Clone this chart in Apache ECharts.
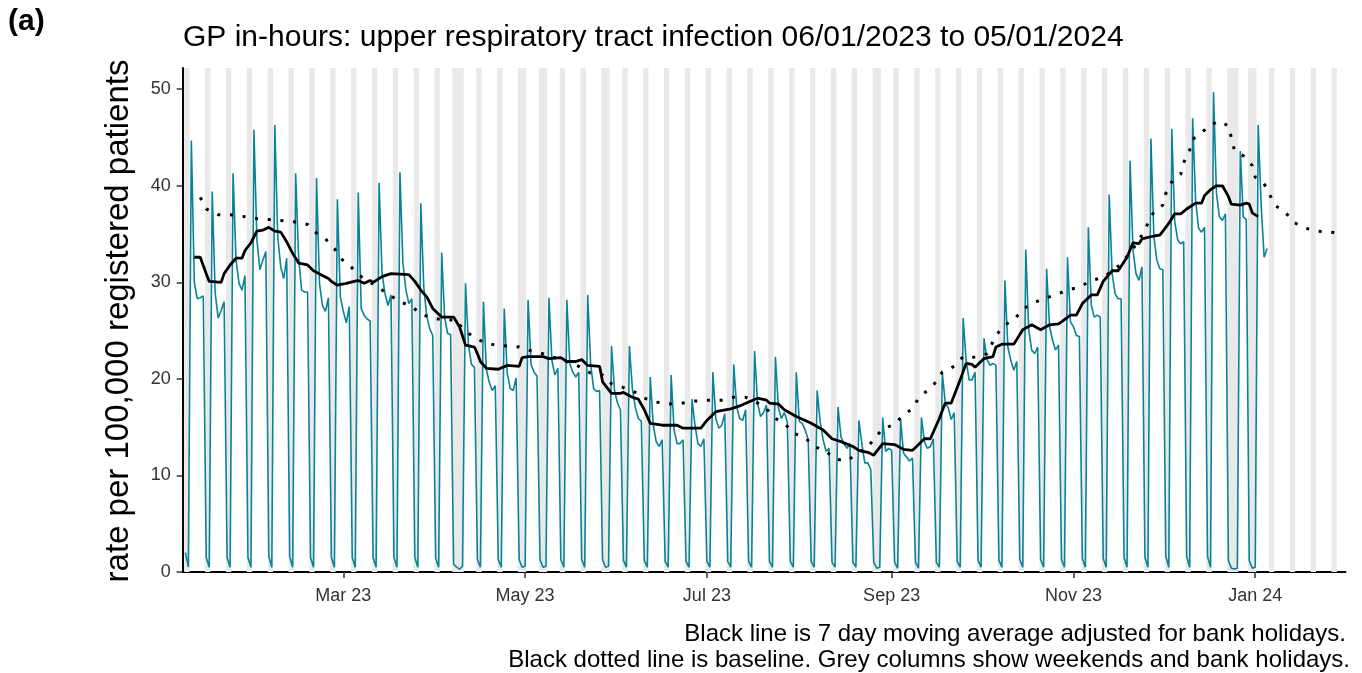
<!DOCTYPE html>
<html>

<head>
    <meta charset="utf-8">
    <title>GP in-hours: upper respiratory tract infection</title>
    <script src="https://cdn.jsdelivr.net/npm/echarts@6.0.0/dist/echarts.min.js"></script>
    <style>
        html, body { margin: 0; padding: 0; background: #fff; }
    </style>
</head>

<body>
    <div id="chart" style="width: 1362px; height: 673px;"></div>

    <script>
        // first day of the daily series (Saturday)
        var startDate = [2023, 0, 7];

        // daily rate per 100,000, from Sat 07/01/2023; one line per week (Mon..Sun)
        var rate = [
            2.0, 0.5,
            44.7, 30.0, 28.3, 28.4, 28.6, 1.5, 0.5,   // 09 Jan
            39.4, 28.9, 26.3, 27.1, 28.0, 1.5, 0.5,   // 16 Jan
            41.3, 32.3, 29.9, 29.2, 30.7, 1.5, 0.5,   // 23 Jan
            45.8, 34.4, 31.3, 32.3, 33.2, 1.6, 0.5,   // 30 Jan
            46.3, 34.7, 31.6, 30.4, 32.5, 1.6, 0.5,   // 06 Feb
            41.3, 32.6, 29.2, 29.0, 29.0, 1.5, 0.5,   // 13 Feb
            40.8, 29.9, 27.6, 27.0, 28.4, 1.5, 0.5,   // 20 Feb
            38.6, 28.5, 27.0, 25.8, 27.5, 1.5, 0.5,   // 27 Feb
            39.3, 27.3, 26.6, 26.2, 26.0, 1.5, 0.5,   // 06 Mar
            40.3, 30.9, 28.8, 27.6, 28.7, 1.5, 0.5,   // 13 Mar
            41.4, 32.0, 29.2, 27.8, 28.3, 1.5, 0.5,   // 20 Mar
            38.2, 29.5, 26.5, 25.2, 24.5, 1.4, 0.5,   // 27 Mar
            33.1, 26.4, 24.7, 24.6, 0.8, 0.5, 0.3,    // 03 Apr (Good Friday)
            0.6, 29.9, 23.5, 21.5, 21.2, 1.3, 0.5,    // 10 Apr (Easter Monday)
            28.0, 21.0, 19.6, 18.8, 19.3, 1.3, 0.5,   // 17 Apr
            27.3, 20.6, 19.0, 18.8, 20.1, 1.3, 0.5,   // 24 Apr
            0.6, 28.2, 21.5, 20.7, 20.3, 1.3, 0.5,    // 01 May (bank holiday)
            0.6, 28.4, 21.9, 20.4, 21.1, 1.3, 0.5,    // 08 May (bank holiday)
            28.2, 21.6, 20.7, 20.2, 20.7, 1.3, 0.5,   // 15 May
            28.7, 21.5, 19.0, 18.7, 18.8, 1.3, 0.5,   // 22 May
            0.6, 23.4, 18.8, 17.5, 16.8, 1.2, 0.5,    // 29 May (bank holiday)
            23.4, 19.0, 17.0, 15.9, 15.6, 1.2, 0.5,   // 05 Jun
            20.2, 15.2, 13.5, 13.0, 13.7, 1.1, 0.5,   // 12 Jun
            20.4, 14.7, 13.3, 13.3, 13.7, 1.1, 0.5,   // 19 Jun
            17.9, 15.2, 13.3, 13.0, 13.8, 1.1, 0.5,   // 26 Jun
            20.7, 15.9, 14.9, 15.2, 16.4, 1.1, 0.5,   // 03 Jul
            21.5, 17.1, 15.9, 15.7, 16.8, 1.1, 0.5,   // 10 Jul
            22.9, 17.5, 16.1, 16.5, 17.3, 1.1, 0.5,   // 17 Jul
            22.3, 17.0, 15.9, 16.5, 15.5, 1.1, 0.5,   // 24 Jul
            20.7, 15.6, 15.4, 14.7, 13.7, 1.1, 0.5,   // 31 Jul
            18.8, 15.6, 13.7, 12.5, 12.8, 1.0, 0.5,   // 07 Aug
            17.1, 14.0, 13.3, 12.8, 13.3, 1.0, 0.5,   // 14 Aug
            15.7, 13.3, 11.3, 11.3, 10.6, 1.0, 0.4,   // 21 Aug
            0.5, 16.0, 12.5, 12.8, 12.6, 1.0, 0.4,    // 28 Aug (bank holiday)
            15.8, 12.3, 11.9, 11.5, 11.8, 1.0, 0.4,   // 04 Sep
            16.0, 13.5, 12.8, 13.0, 13.8, 1.0, 0.5,   // 11 Sep
            20.6, 17.5, 17.0, 15.8, 16.5, 1.1, 0.5,   // 18 Sep
            26.3, 21.9, 19.9, 19.9, 20.7, 1.2, 0.5,   // 25 Sep
            24.2, 22.0, 21.4, 21.6, 21.4, 1.2, 0.5,   // 02 Oct
            30.2, 23.3, 21.9, 20.9, 21.8, 1.3, 0.5,   // 09 Oct
            33.4, 25.1, 23.0, 22.6, 23.3, 1.3, 0.5,   // 16 Oct
            31.4, 25.4, 24.0, 23.0, 23.5, 1.3, 0.5,   // 23 Oct
            32.6, 25.9, 25.4, 24.5, 24.4, 1.4, 0.5,   // 30 Oct
            35.7, 27.6, 26.4, 26.6, 26.4, 1.4, 0.5,   // 06 Nov
            39.1, 30.9, 28.8, 28.3, 28.3, 1.5, 0.5,   // 13 Nov
            42.6, 33.3, 30.9, 30.2, 31.6, 1.5, 0.5,   // 20 Nov
            44.9, 34.7, 32.3, 31.4, 31.3, 1.6, 0.5,   // 27 Nov
            45.9, 36.3, 34.4, 34.0, 34.2, 1.6, 0.5,   // 04 Dec
            47.0, 38.5, 35.6, 35.2, 35.7, 1.6, 0.5,   // 11 Dec
            49.7, 39.2, 36.8, 36.4, 37.1, 1.2, 0.4,   // 18 Dec
            0.3, 0.4, 43.6, 36.8, 36.5, 1.2, 0.4,     // 25 Dec (Christmas, Boxing Day)
            0.5, 46.3, 38.0, 32.6, 33.5               // 01 Jan 2024 (bank holiday)
        ];

        // 7 day moving average adjusted for bank holidays
        var movingAvg = [
            ['2023-01-10', 32.6], ['2023-01-12', 32.6], ['2023-01-14', 30.9], ['2023-01-15', 30.1],
            ['2023-01-19', 30.0], ['2023-01-20', 30.9], ['2023-01-22', 31.8], ['2023-01-24', 32.5],
            ['2023-01-26', 32.5], ['2023-01-27', 33.3], ['2023-01-29', 34.1], ['2023-01-31', 35.3],
            ['2023-02-02', 35.4], ['2023-02-04', 35.7], ['2023-02-06', 35.3], ['2023-02-08', 35.2],
            ['2023-02-10', 34.2], ['2023-02-12', 33.0], ['2023-02-14', 32.0], ['2023-02-17', 31.8],
            ['2023-02-19', 31.2], ['2023-02-22', 30.7], ['2023-02-24', 30.4], ['2023-02-25', 30.1],
            ['2023-02-27', 29.7], ['2023-03-02', 29.9], ['2023-03-06', 30.2], ['2023-03-08', 29.9],
            ['2023-03-10', 30.2], ['2023-03-11', 30.0], ['2023-03-14', 30.6], ['2023-03-17', 30.9],
            ['2023-03-23', 30.8], ['2023-03-25', 30.1], ['2023-03-27', 29.2], ['2023-03-29', 28.5],
            ['2023-03-31', 27.3], ['2023-04-03', 26.4], ['2023-04-07', 26.4], ['2023-04-09', 25.4],
            ['2023-04-11', 23.5], ['2023-04-14', 23.3], ['2023-04-15', 22.6], ['2023-04-16', 21.8],
            ['2023-04-18', 21.1], ['2023-04-22', 21.0], ['2023-04-25', 21.4], ['2023-04-29', 21.3],
            ['2023-04-30', 22.2], ['2023-05-02', 22.3], ['2023-05-07', 22.3], ['2023-05-09', 22.1],
            ['2023-05-13', 22.2], ['2023-05-15', 21.8], ['2023-05-18', 21.8], ['2023-05-20', 22.0],
            ['2023-05-22', 21.4], ['2023-05-26', 21.3], ['2023-05-27', 19.7], ['2023-05-30', 18.5],
            ['2023-06-02', 18.5], ['2023-06-03', 18.6], ['2023-06-06', 18.1], ['2023-06-08', 17.9],
            ['2023-06-10', 16.8], ['2023-06-12', 15.4], ['2023-06-16', 15.2], ['2023-06-21', 15.2],
            ['2023-06-23', 14.9], ['2023-06-29', 14.9], ['2023-07-01', 15.7], ['2023-07-04', 16.6],
            ['2023-07-09', 16.9], ['2023-07-12', 17.2], ['2023-07-15', 17.6], ['2023-07-18', 18.0],
            ['2023-07-21', 17.8], ['2023-07-22', 17.5], ['2023-07-25', 17.4], ['2023-07-27', 16.8],
            ['2023-07-31', 16.1], ['2023-08-03', 15.7], ['2023-08-05', 15.4], ['2023-08-09', 14.7],
            ['2023-08-12', 13.8], ['2023-08-15', 13.5], ['2023-08-19', 13.0], ['2023-08-21', 12.6],
            ['2023-08-24', 12.4], ['2023-08-26', 12.1], ['2023-08-29', 13.3], ['2023-09-02', 13.2],
            ['2023-09-05', 12.7], ['2023-09-08', 12.6], ['2023-09-09', 12.9], ['2023-09-12', 13.8],
            ['2023-09-14', 13.8], ['2023-09-17', 15.9], ['2023-09-19', 17.5], ['2023-09-21', 17.5],
            ['2023-09-24', 19.9], ['2023-09-26', 21.6], ['2023-09-28', 21.5], ['2023-09-29', 21.2],
            ['2023-10-02', 22.1], ['2023-10-05', 22.3], ['2023-10-06', 23.3], ['2023-10-08', 23.6],
            ['2023-10-12', 23.6], ['2023-10-15', 25.1], ['2023-10-18', 25.6], ['2023-10-21', 25.1],
            ['2023-10-24', 25.6], ['2023-10-27', 25.7], ['2023-10-28', 25.9], ['2023-10-31', 26.6],
            ['2023-11-02', 26.6], ['2023-11-04', 27.8], ['2023-11-07', 28.7], ['2023-11-09', 28.7],
            ['2023-11-11', 30.1], ['2023-11-14', 31.2], ['2023-11-16', 31.2], ['2023-11-19', 32.6],
            ['2023-11-21', 34.1], ['2023-11-23', 34.0], ['2023-11-24', 34.5], ['2023-11-28', 34.8],
            ['2023-11-30', 34.9], ['2023-12-03', 36.1], ['2023-12-05', 37.1], ['2023-12-07', 37.1],
            ['2023-12-09', 37.6], ['2023-12-12', 38.2], ['2023-12-14', 38.2], ['2023-12-15', 39.0],
            ['2023-12-17', 39.6], ['2023-12-19', 40.0], ['2023-12-21', 40.0], ['2023-12-23', 38.9],
            ['2023-12-24', 38.1], ['2023-12-27', 38.0], ['2023-12-29', 38.2], ['2023-12-30', 38.1],
            ['2023-12-31', 37.2], ['2024-01-02', 36.8]
        ];

        // baseline (dotted)
        var baseline = [
            ['2023-01-12', 38.8], ['2023-01-14', 37.6], ['2023-01-18', 37.0], ['2023-01-22', 37.0],
            ['2023-01-27', 36.8], ['2023-01-31', 36.6], ['2023-02-04', 36.5], ['2023-02-08', 36.4],
            ['2023-02-12', 36.3], ['2023-02-17', 36.0], ['2023-02-20', 35.1], ['2023-02-23', 34.5],
            ['2023-02-26', 33.5], ['2023-02-28', 32.5], ['2023-03-03', 31.8], ['2023-03-06', 30.8],
            ['2023-03-13', 29.4], ['2023-03-16', 28.8], ['2023-03-20', 28.0], ['2023-03-24', 27.5],
            ['2023-03-27', 26.7], ['2023-03-31', 26.3], ['2023-04-04', 26.1], ['2023-04-08', 26.1],
            ['2023-04-10', 25.2], ['2023-04-13', 24.5], ['2023-04-17', 23.8], ['2023-04-21', 23.5],
            ['2023-04-25', 23.4], ['2023-04-29', 23.3], ['2023-05-03', 22.9], ['2023-05-07', 22.6],
            ['2023-05-11', 22.2], ['2023-05-15', 21.8], ['2023-05-19', 21.3], ['2023-05-23', 20.6],
            ['2023-05-27', 20.4], ['2023-05-30', 19.5], ['2023-06-03', 19.1], ['2023-06-07', 18.6],
            ['2023-06-10', 18.0], ['2023-06-14', 17.6], ['2023-06-18', 17.4], ['2023-06-23', 17.5],
            ['2023-06-27', 17.7], ['2023-07-01', 17.8], ['2023-07-06', 17.8], ['2023-07-10', 18.1],
            ['2023-07-14', 18.1], ['2023-07-18', 17.5], ['2023-07-21', 16.9], ['2023-07-24', 15.9],
            ['2023-07-27', 15.4], ['2023-07-30', 14.4], ['2023-08-03', 13.9], ['2023-08-06', 13.0],
            ['2023-08-10', 12.5], ['2023-08-13', 11.7], ['2023-08-17', 11.5], ['2023-08-21', 12.4],
            ['2023-08-24', 12.9], ['2023-08-26', 13.8], ['2023-08-29', 14.8], ['2023-09-02', 15.3],
            ['2023-09-05', 16.3], ['2023-09-08', 16.9], ['2023-09-10', 18.0], ['2023-09-13', 18.8],
            ['2023-09-16', 19.7], ['2023-09-18', 20.7], ['2023-09-22', 21.3], ['2023-09-25', 22.3],
            ['2023-09-28', 22.2], ['2023-10-03', 22.6], ['2023-10-06', 24.5], ['2023-10-09', 25.6],
            ['2023-10-12', 26.1], ['2023-10-15', 27.2], ['2023-10-18', 27.8], ['2023-10-22', 28.3],
            ['2023-10-26', 28.7], ['2023-10-30', 29.2], ['2023-11-03', 29.5], ['2023-11-07', 30.2],
            ['2023-11-11', 30.5], ['2023-11-17', 31.9], ['2023-11-22', 33.9], ['2023-11-24', 34.9],
            ['2023-11-26', 36.1], ['2023-11-28', 37.3], ['2023-12-01', 38.0], ['2023-12-02', 39.2],
            ['2023-12-04', 40.4], ['2023-12-07', 41.2], ['2023-12-08', 42.4], ['2023-12-10', 43.7],
            ['2023-12-11', 44.8], ['2023-12-14', 45.5], ['2023-12-17', 46.3], ['2023-12-20', 46.7],
            ['2023-12-23', 46.2], ['2023-12-24', 45.0], ['2023-12-25', 43.7], ['2023-12-28', 43.1],
            ['2023-12-31', 42.1], ['2024-01-01', 40.9], ['2024-01-04', 40.2], ['2024-01-06', 39.0],
            ['2024-01-08', 37.9], ['2024-01-11', 37.3], ['2024-01-14', 36.2], ['2024-01-18', 35.6],
            ['2024-01-22', 35.3], ['2024-01-26', 35.2], ['2024-01-30', 35.1]
        ];

        // bank holidays in the period (grey columns together with weekends)
        var bankHolidays = ['2023-04-07', '2023-04-10', '2023-05-01', '2023-05-08', '2023-05-29',
            '2023-08-28', '2023-12-25', '2023-12-26', '2024-01-01'];
        var greyUntil = '2024-01-28';

        // x axis ticks
        var tickDates = ['2023-03-01', '2023-05-01', '2023-07-01', '2023-09-01', '2023-11-01', '2024-01-01'];
        var tickLabels = ['Mar 23', 'May 23', 'Jul 23', 'Sep 23', 'Nov 23', 'Jan 24'];
        var yTicks = [0, 10, 20, 30, 40, 50];

        var DAY = 86400000;
        var FONT = "'Liberation Sans', Arial, Helvetica, sans-serif";

        function ts(s) {
            var p = s.split('-').map(Number);
            return new Date(p[0], p[1] - 1, p[2]).getTime();
        }
        function dayTs(i) {
            return new Date(startDate[0], startDate[1], startDate[2] + i).getTime();
        }

        var rateData = rate.map(function (v, i) { return [dayTs(i), v]; });
        var maData = movingAvg.map(function (p) { return [ts(p[0]), p[1]]; });
        var baseData = baseline.map(function (p) { return [ts(p[0]), p[1]]; });

        // grey columns: runs of weekend / bank holiday days
        var holidaySet = {};
        bankHolidays.forEach(function (d) { holidaySet[ts(d)] = true; });
        var lastGrey = ts(greyUntil);
        var greyRuns = [];
        var run = null;
        for (var i = 0; dayTs(i) <= lastGrey; i++) {
            var t = dayTs(i);
            var wd = new Date(t).getDay();
            var off = wd === 0 || wd === 6 || holidaySet[t];
            if (off) {
                if (run) { run[1] = t; } else { run = [t, t]; }
            } else if (run) {
                greyRuns.push(run); run = null;
            }
        }
        if (run) greyRuns.push(run);
        var greyData = greyRuns.map(function (r) { return [r[0] - 0.4 * DAY, r[1] + 0.4 * DAY, 0]; });

        var tickTimes = tickDates.map(ts);

        var myChart = echarts.init(document.getElementById('chart'));

        var option = {
            animation: false,
            backgroundColor: '#fff',
            textStyle: { fontFamily: FONT },
            grid: { left: 182.7, top: 68, width: 1162.8, height: 504, containLabel: false },
            xAxis: {
                type: 'time',
                min: dayTs(0) - 0.9 * DAY,
                max: dayTs(0) + 389.3 * DAY,
                splitNumber: 6,
                minInterval: 59 * DAY,
                maxInterval: 62 * DAY,
                axisLine: { lineStyle: { color: '#000', width: 2 } },
                axisTick: { length: 6, lineStyle: { color: '#333', width: 1.5 } },
                axisLabel: {
                    margin: 15,
                    fontSize: 18,
                    color: '#333',
                    fontFamily: FONT,
                    hideOverlap: false,
                    formatter: function (v) {
                        var k = tickTimes.indexOf(v);
                        return k >= 0 ? tickLabels[k] : '';
                    }
                },
                splitLine: { show: false }
            },
            yAxis: {
                type: 'value',
                min: 0,
                max: 52.2,
                interval: 10,
                axisLine: { show: true, lineStyle: { color: '#000', width: 2 } },
                axisTick: { show: true, customValues: yTicks, length: 6, lineStyle: { color: '#333', width: 1.5 } },
                axisLabel: { customValues: yTicks, margin: 12, fontSize: 18, color: '#333', fontFamily: FONT },
                splitLine: { show: false }
            },
            graphic: [
                {
                    type: 'text', x: 8, y: 22,
                    style: { text: '(a)', font: 'bold 30px ' + FONT, fill: '#000', verticalAlign: 'middle' }
                },
                {
                    type: 'text', x: 183, y: 38,
                    style: {
                        text: 'GP in-hours: upper respiratory tract infection 06/01/2023 to 05/01/2024',
                        font: '30px ' + FONT, fill: '#000', verticalAlign: 'middle'
                    }
                },
                {
                    type: 'text', x: 119, y: 321, rotation: Math.PI / 2,
                    style: {
                        text: 'rate per 100,000 registered patients',
                        font: '33px ' + FONT, fill: '#000', align: 'center', verticalAlign: 'middle'
                    }
                },
                {
                    type: 'text', x: 1346, y: 634,
                    style: {
                        text: 'Black line is 7 day moving average adjusted for bank holidays.',
                        font: '24px ' + FONT, fill: '#000', align: 'right', verticalAlign: 'middle'
                    }
                },
                {
                    type: 'text', x: 1350, y: 660,
                    style: {
                        text: 'Black dotted line is baseline. Grey columns show weekends and bank holidays.',
                        font: '24px ' + FONT, fill: '#000', align: 'right', verticalAlign: 'middle'
                    }
                }
            ],
            series: [
                {
                    name: 'weekends',
                    type: 'custom',
                    z: 1,
                    silent: true,
                    encode: { x: [0, 1], y: 2 },
                    renderItem: function (params, api) {
                        var a = api.coord([api.value(0), 0]);
                        var b = api.coord([api.value(1), 0]);
                        var cs = params.coordSys;
                        return {
                            type: 'rect',
                            shape: { x: a[0], y: cs.y, width: b[0] - a[0], height: cs.height },
                            style: { fill: '#e9e9e9' }
                        };
                    },
                    data: greyData
                },
                {
                    name: 'rate',
                    type: 'line',
                    z: 2,
                    showSymbol: false,
                    lineStyle: { color: '#0a8396', width: 1.6 },
                    data: rateData
                },
                {
                    name: 'baseline',
                    type: 'line',
                    z: 3,
                    showSymbol: false,
                    lineStyle: { color: '#000', width: 3, type: [3, 9.7] },
                    data: baseData
                },
                {
                    name: 'moving average',
                    type: 'line',
                    z: 4,
                    showSymbol: false,
                    lineStyle: { color: '#000', width: 2.8 },
                    data: maData
                }
            ]
        };

        myChart.setOption(option);
    </script>
</body>

</html>
